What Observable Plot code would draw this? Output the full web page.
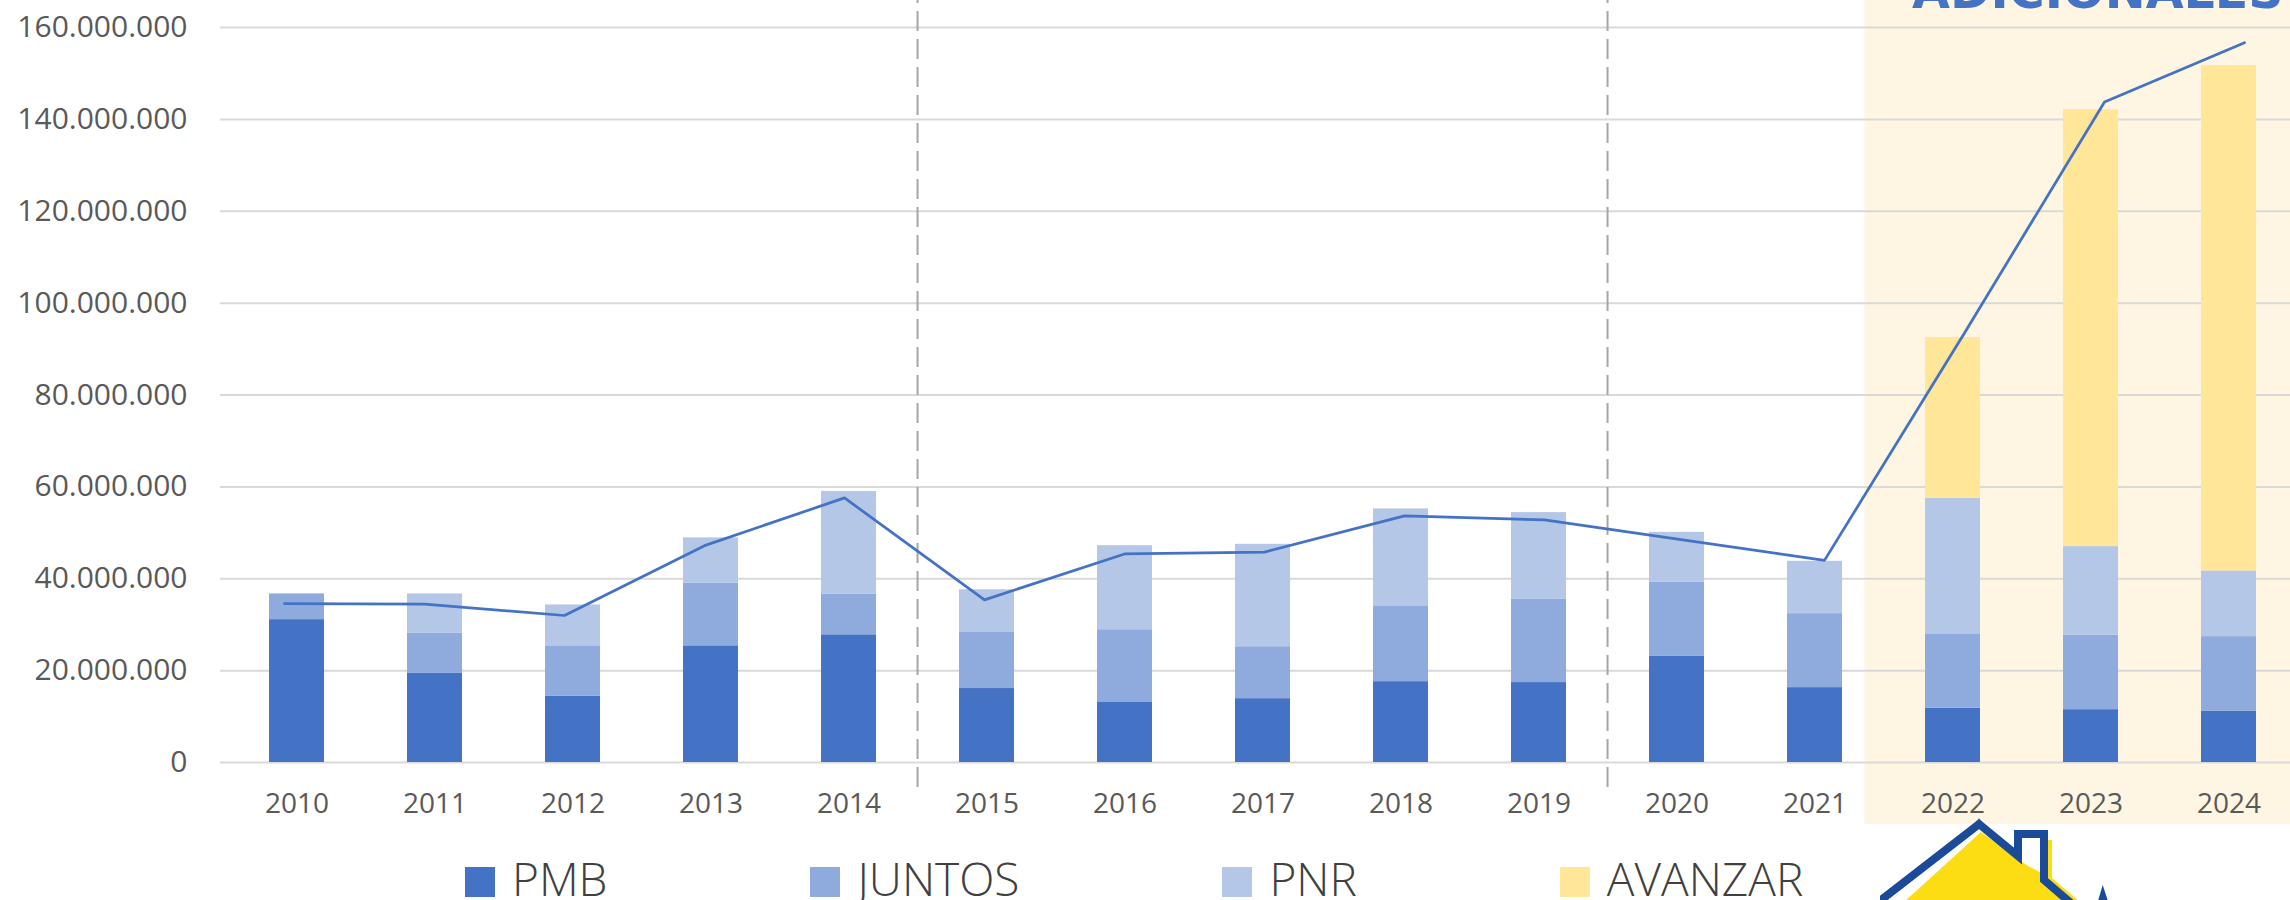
<!DOCTYPE html>
<html><head><meta charset="utf-8">
<script src="https://cdn.jsdelivr.net/npm/d3@7"></script>
<script src="https://cdn.jsdelivr.net/npm/@observablehq/plot@0.6"></script>
<style>
html,body{margin:0;padding:0;width:2290px;height:900px;overflow:hidden;background:#fff;}
#wrap{position:relative;width:2290px;height:900px;overflow:hidden;}
#wrap > svg.layer{position:absolute;left:0;top:0;}
g[aria-label^="y-axis"]{font-size:30px;}
g[aria-label^="x-axis"]{font-size:28px;}
#legend{position:absolute;top:867px;left:465px;display:flex;gap:203px;font-family:"Open Sans",sans-serif;font-weight:300;color:#404040;}
#legend .item{display:flex;align-items:center;height:30px;}
#legend .sw{width:30px;height:30px;margin-right:17px;}
#legend .lb{font-size:46px;line-height:30px;position:relative;top:-4px;white-space:nowrap;}
#title{position:absolute;left:1912px;top:-33px;font-family:"DejaVu Sans",sans-serif;font-weight:bold;font-size:49px;line-height:49px;color:#4472C4;white-space:nowrap;}
#wrap > svg#logo{position:absolute;left:1880px;top:810px;}
</style></head>
<body><div id="wrap"></div>
<script>
const years = ["2010","2011","2012","2013","2014","2015","2016","2017","2018","2019","2020","2021","2022","2023","2024"];
const seriesNames = ["PMB","JUNTOS","PNR","AVANZAR"];
const seriesColors = ["#4472C4","#8FAADC","#B4C7E7","#FFE699"];
const pmb     = [31100000,19400000,14400000,25400000,27800000,16100000,13200000,13900000,17600000,17400000,23100000,16300000,11800000,11500000,11200000];
const juntos  = [5600000,8700000,11000000,13600000,8800000,12200000,15700000,11300000,16500000,18200000,16200000,16100000,16200000,16200000,16200000];
const pnr     = [0,8600000,8900000,9900000,22400000,9300000,18300000,22300000,21100000,18800000,10800000,11400000,29500000,19300000,14300000];
const avanzar = [0,0,0,0,0,0,0,0,0,0,0,0,35000000,95100000,110000000];
const total   = [34600000,34500000,32000000,47200000,57600000,35400000,45400000,45800000,53700000,52800000,48400000,44000000,93500000,143800000,156700000];
const yTicks  = [0,20000000,40000000,60000000,80000000,100000000,120000000,140000000,160000000];
const dividerYears = ["2015","2020"];
const highlightYears = ["2022","2023","2024"];
const legendLabels = seriesNames;

const W = 2290, H = 830, ML = 220, MT = 27, MB = 68;
const xRange = [220.5, 2304.5];
const step = (xRange[1] - xRange[0]) / years.length;
const fmt = d3.formatLocale({decimal: ",", thousands: ".", grouping: [3], currency: ["", ""]}).format(",");

const seriesValues = [pmb, juntos, pnr, avanzar];
const rows = years.flatMap((yr, i) => seriesNames.map((s, j) => ({year: yr, serie: s, value: seriesValues[j][i]})));
const lineRows = years.map((yr, i) => ({year: yr, value: total[i]}));

const common = {
  width: W, height: H, marginLeft: ML, marginRight: 0, marginTop: MT, marginBottom: MB,
  style: {fontFamily: "'Open Sans', sans-serif", background: "transparent", color: "#595959", overflow: "visible"}
};
const xBand = {domain: years, range: xRange, paddingInner: 0.6, paddingOuter: 0.3};
const yLin = {domain: [0, 160000000]};

// background layer: highlighted period
const back = Plot.plot({
  ...common,
  x: {...xBand, axis: null},
  y: {...yLin, axis: null},
  marks: [
    Plot.barY(highlightYears, {x: d => d, y1: 0, y2: 160000000, fill: "#FEF6E3",
      insetLeft: -(step * 0.3 + 19), insetRight: -(step * 0.3 + 10), insetTop: -MT - 5, insetBottom: -62})
  ]
});

const main = Plot.plot({
  ...common,
  x: {...xBand, label: null, tickSize: 0, tickPadding: 31},
  y: {...yLin, ticks: yTicks, tickFormat: fmt, tickSize: 0, tickPadding: 33, label: null},
  color: {domain: seriesNames, range: seriesColors},
  marks: [
    Plot.ruleY(yTicks, {stroke: "#D9D9D9", strokeWidth: 2}),
    Plot.ruleX(dividerYears, {x: d => d, dx: -step / 2, stroke: "#A6A6A6", strokeWidth: 2,
      strokeDasharray: "20,8", strokeDashoffset: 15, insetTop: -MT - 2, insetBottom: -33}),
    Plot.barY(rows, {x: "year", y: "value", fill: "serie"})
  ]
});

const overlay = Plot.plot({
  ...common,
  x: {type: "point", domain: years, range: [280, 2247], padding: 0, axis: null},
  y: {...yLin, axis: null},
  marks: [
    Plot.line(lineRows, {x: "year", y: "value", stroke: "#4472C4", strokeWidth: 2.75, strokeLinejoin: "miter"})
  ]
});

const wrap = document.getElementById("wrap");
[back, main, overlay].forEach(s => { s.classList.add("layer"); wrap.appendChild(s); });

const title = document.createElement("div");
title.id = "title";
title.textContent = "ADICIONALES";
wrap.appendChild(title);

const legend = document.createElement("div");
legend.id = "legend";
legendLabels.forEach((name, i) => {
  const it = document.createElement("div");
  it.className = "item";
  it.innerHTML = `<span class="sw" style="background:${seriesColors[i]}"></span><span class="lb">${name}</span>`;
  legend.appendChild(it);
});
wrap.appendChild(legend);

const logo = document.createElementNS("http://www.w3.org/2000/svg", "svg");
logo.setAttribute("id", "logo");
logo.setAttribute("width", "240");
logo.setAttribute("height", "90");
logo.innerHTML = `
  <polygon points="101,22 24,92 200,92 172,68 148,56" fill="#FCDC12"/>
  <rect x="165" y="30" width="7" height="62" fill="#FCDC12"/>
  <polygon points="93,15 99,8 105,15" fill="#8A9BB0"/>
  <polyline points="-4,94 99,14 138,46 138,24 164,24 164,70 192,94" fill="none" stroke="#1B4A99" stroke-width="8"/>
  <polygon points="222.7,75 217.7,92 228.3,92" fill="#1B4A99"/>`;
wrap.appendChild(logo);
</script>
</body></html>
